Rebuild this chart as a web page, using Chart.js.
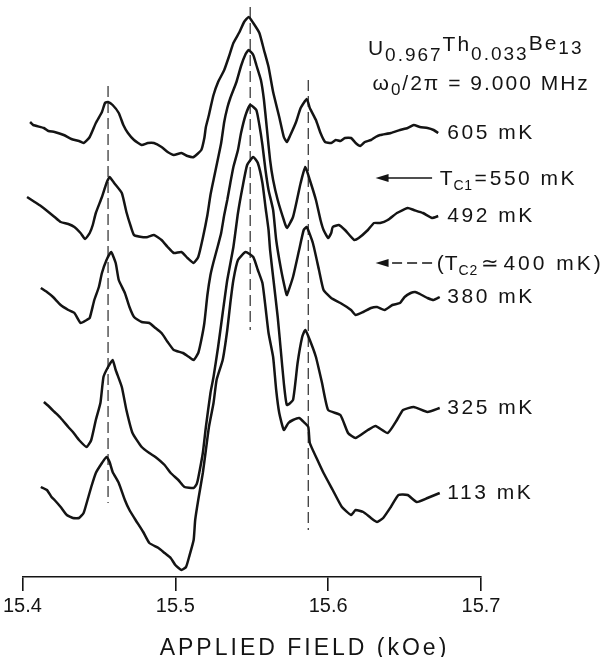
<!DOCTYPE html>
<html>
<head>
<meta charset="utf-8">
<script src="https://cdn.jsdelivr.net/npm/chart.js@4.4.1/dist/chart.umd.min.js"></script>
<style>
  html, body { margin: 0; padding: 0; background: #fff; }
  #wrap { width: 607px; height: 657px; }
</style>
</head>
<body>
<div id="wrap"><canvas id="nmr" width="607" height="657"></canvas></div>
<script>
// NMR absorption traces, x = applied field (kOe), y = trace height (arb. units, offset per trace)
const trace605 = [[15.405,455],[15.407,452],[15.414,449],[15.417,446],[15.421,445],[15.427,442],[15.432,438],[15.437,436],[15.440,434],[15.444,440],[15.448,454],[15.452,465],[15.454,474],[15.456,475],[15.459,472],[15.463,464],[15.466,452],[15.469,444],[15.473,437],[15.478,432],[15.482,434],[15.486,434],[15.491,430],[15.495,425],[15.499,422],[15.504,424],[15.508,421],[15.512,420],[15.517,427],[15.519,439],[15.520,450],[15.522,462],[15.523,469],[15.525,482],[15.528,495],[15.532,507],[15.535,520],[15.538,534],[15.542,545],[15.545,555],[15.548,560],[15.551,554],[15.555,544],[15.558,527],[15.561,510],[15.564,485],[15.568,460],[15.571,440],[15.573,435],[15.575,441],[15.579,455],[15.582,469],[15.586,478],[15.588,469],[15.592,457],[15.595,444],[15.598,435],[15.602,434],[15.605,437],[15.608,436],[15.611,439],[15.615,439],[15.618,434],[15.621,431],[15.624,435],[15.628,437],[15.631,440],[15.634,442],[15.641,444],[15.647,447],[15.652,449],[15.656,452],[15.660,450],[15.665,449],[15.669,447],[15.672,444]];
const trace492 = [[15.403,380],[15.408,375],[15.412,371],[15.417,365],[15.421,360],[15.425,355],[15.430,353],[15.434,350],[15.438,344],[15.441,338],[15.444,344],[15.446,352],[15.448,364],[15.452,380],[15.455,394],[15.457,400],[15.460,394],[15.465,384],[15.468,365],[15.471,350],[15.473,342],[15.478,340],[15.482,340],[15.486,342],[15.491,337],[15.495,330],[15.499,324],[15.504,325],[15.508,319],[15.512,314],[15.515,320],[15.518,339],[15.521,362],[15.523,382],[15.525,397],[15.528,419],[15.530,434],[15.532,455],[15.534,469],[15.536,479],[15.540,495],[15.543,511],[15.546,523],[15.548,527],[15.551,522],[15.553,512],[15.556,497],[15.558,477],[15.560,447],[15.562,417],[15.564,397],[15.567,377],[15.571,357],[15.573,349],[15.577,360],[15.580,380],[15.582,394],[15.585,410],[15.588,397],[15.592,377],[15.595,357],[15.597,347],[15.600,339],[15.602,344],[15.603,350],[15.607,352],[15.611,347],[15.617,337],[15.620,339],[15.626,347],[15.630,354],[15.634,354],[15.639,357],[15.645,364],[15.652,369],[15.656,367],[15.662,364],[15.668,359],[15.672,361]];
const trace380 = [[15.412,289],[15.416,285],[15.420,280],[15.425,272],[15.430,267],[15.434,264],[15.438,254],[15.442,257],[15.444,259],[15.447,277],[15.450,290],[15.452,304],[15.455,317],[15.458,325],[15.461,314],[15.463,297],[15.467,284],[15.470,270],[15.473,260],[15.478,255],[15.483,254],[15.487,249],[15.491,244],[15.495,235],[15.499,227],[15.505,224],[15.509,220],[15.512,217],[15.515,224],[15.517,237],[15.519,254],[15.521,282],[15.523,302],[15.525,315],[15.528,332],[15.530,344],[15.532,362],[15.534,377],[15.536,394],[15.538,410],[15.541,427],[15.543,444],[15.546,462],[15.549,472],[15.553,467],[15.555,452],[15.557,432],[15.559,407],[15.561,387],[15.564,367],[15.566,337],[15.569,309],[15.572,287],[15.573,282],[15.577,300],[15.581,327],[15.584,347],[15.586,350],[15.590,334],[15.594,307],[15.597,287],[15.602,279],[15.608,274],[15.615,267],[15.618,262],[15.623,265],[15.628,269],[15.632,270],[15.637,267],[15.642,272],[15.647,274],[15.650,280],[15.654,284],[15.657,285],[15.660,283],[15.665,279],[15.669,277],[15.673,280]];
const trace325 = [[15.414,175],[15.417,171],[15.421,165],[15.425,159],[15.430,150],[15.433,145],[15.437,137],[15.442,130],[15.445,137],[15.448,157],[15.451,174],[15.453,200],[15.456,210],[15.459,217],[15.461,207],[15.465,190],[15.468,167],[15.472,144],[15.478,130],[15.483,124],[15.487,120],[15.493,112],[15.497,104],[15.502,97],[15.506,90],[15.512,89],[15.514,93],[15.515,99],[15.518,124],[15.520,150],[15.523,184],[15.525,200],[15.528,230],[15.531,264],[15.534,297],[15.538,330],[15.541,364],[15.544,390],[15.547,412],[15.551,420],[15.554,414],[15.557,394],[15.559,370],[15.561,347],[15.562,327],[15.564,300],[15.567,260],[15.569,227],[15.571,194],[15.573,172],[15.577,177],[15.580,214],[15.583,240],[15.585,247],[15.588,237],[15.592,220],[15.596,194],[15.600,167],[15.608,162],[15.613,144],[15.618,139],[15.626,147],[15.631,151],[15.639,144],[15.645,157],[15.649,167],[15.656,170],[15.665,165],[15.673,169]];
const trace113 = [[15.412,90],[15.416,87],[15.419,80],[15.421,77],[15.425,70],[15.429,62],[15.433,59],[15.437,59],[15.440,64],[15.442,74],[15.445,90],[15.448,104],[15.452,114],[15.455,120],[15.457,115],[15.459,105],[15.463,94],[15.467,77],[15.470,67],[15.474,57],[15.479,45],[15.483,34],[15.489,29],[15.493,24],[15.497,19],[15.500,12],[15.504,7],[15.507,10],[15.509,20],[15.512,37],[15.513,57],[15.515,77],[15.518,104],[15.520,127],[15.522,150],[15.525,174],[15.527,197],[15.531,217],[15.534,247],[15.536,274],[15.538,297],[15.541,317],[15.546,325],[15.551,320],[15.554,307],[15.557,294],[15.559,270],[15.561,244],[15.564,220],[15.566,187],[15.568,164],[15.571,147],[15.574,154],[15.577,157],[15.581,159],[15.584,155],[15.587,150],[15.588,134],[15.593,117],[15.597,104],[15.603,87],[15.609,70],[15.615,62],[15.618,67],[15.623,65],[15.628,59],[15.632,55],[15.636,59],[15.641,70],[15.646,82],[15.652,82],[15.658,75],[15.665,79],[15.673,84]];

const traces = [trace605, trace492, trace380, trace325, trace113];
const tempLabels = ["605 mK", "492 mK", "380 mK", "325 mK", "113 mK"];

// dashed reference lines: field (kOe), top and bottom heights
const markerFields = [15.456, 15.549, 15.587];
const markerTops = [491, 570, 497];
const markerBottoms = [74, 247, 47];

const xTicks = [15.4, 15.5, 15.6, 15.7];

const FONT = '"Liberation Sans", Arial, sans-serif';
const INK = "#141414";

let datasets = traces.map(function (t) {
    return {
        data: t.map(p => ({ x: p[0], y: p[1] })),
        borderColor: INK,
        borderWidth: 2.5,
        pointRadius: 0,
        tension: 0.15,
        fill: false
    };
});
markerFields.forEach(function (f, i) {
    datasets.push({
        data: [{ x: f, y: markerTops[i] }, { x: f, y: markerBottoms[i] }],
        borderColor: "#3a3a3a",
        borderWidth: 1.3,
        borderDash: [11, 5],
        pointRadius: 0,
        fill: false
    });
});

// draw a run of text pieces (main letters and subscripts) left to right
function drawRuns(ctx, x, y, runs) {
    runs.forEach(function (r) {
        let sp = r.sp || 0;
        ctx.font = r.size + "px " + FONT;
        ctx.letterSpacing = "0px";
        let w = ctx.measureText(r.t).width + sp * r.t.length;
        ctx.letterSpacing = sp + "px";
        ctx.fillText(r.t, x, y + (r.dy || 0));
        x += w + (r.gap || 0);
    });
    ctx.letterSpacing = "0px";
}

function drawArrow(ctx, x0, x1, y, dashed) {
    ctx.save();
    ctx.strokeStyle = INK;
    ctx.fillStyle = INK;
    ctx.lineWidth = 1.6;
    if (dashed) ctx.setLineDash([10, 5]);
    ctx.beginPath();
    ctx.moveTo(x1, y);
    ctx.lineTo(x0 + 12, y);
    ctx.stroke();
    ctx.setLineDash([]);
    ctx.beginPath();
    ctx.moveTo(x0, y);
    ctx.lineTo(x0 + 13, y - 4);
    ctx.lineTo(x0 + 13, y + 4);
    ctx.closePath();
    ctx.fill();
    ctx.restore();
}

const annotations = {
    id: "annotations",
    afterDraw(chart) {
        const ctx = chart.ctx;
        const xs = chart.scales.x, ys = chart.scales.y;
        ctx.save();
        ctx.fillStyle = INK;
        ctx.textBaseline = "alphabetic";

        // sample and frequency
        drawRuns(ctx, xs.getPixelForValue(15.626), ys.getPixelForValue(522), [
            { t: "U", size: 21, sp: 2 },
            { t: "0.967", size: 19, sp: 2, dy: 6 },
            { t: "Th", size: 21, sp: 2, dy: -4 },
            { t: "0.033", size: 19, sp: 2, dy: 5 },
            { t: "Be", size: 21, sp: 2, dy: -5 },
            { t: "13", size: 19, sp: 2, dy: -1 }
        ]);
        drawRuns(ctx, xs.getPixelForValue(15.629), ys.getPixelForValue(487), [
            { t: "\u03c9", size: 21, sp: 2 },
            { t: "0", size: 17, sp: 2, dy: 5 },
            { t: "/2\u03c0 = 9.000 MHz", size: 21, sp: 2 }
        ]);

        // transition temperatures
        let ax0 = xs.getPixelForValue(15.631), ax1 = xs.getPixelForValue(15.668);
        let y1 = ys.getPixelForValue(399), y2 = ys.getPixelForValue(314);
        drawArrow(ctx, ax0, ax1, y1, false);
        drawArrow(ctx, ax0, ax1, y2, true);
        drawRuns(ctx, xs.getPixelForValue(15.673), y1 + 7, [
            { t: "T", size: 21, sp: 1 },
            { t: "C1", size: 14, sp: 0.5, dy: 5, gap: 2 },
            { t: "=", size: 21, gap: 3 },
            { t: "550 mK", size: 21, sp: 2.5 }
        ]);
        drawRuns(ctx, xs.getPixelForValue(15.671), y2 + 7, [
            { t: "(", size: 21, sp: 1 },
            { t: "T", size: 21, sp: 1 },
            { t: "C2", size: 14, sp: 1, dy: 5, gap: 3 },
            { t: "\u2243", size: 21, gap: 4 },
            { t: "400 mK)", size: 21, sp: 3 }
        ]);

        // temperature of each trace, at its right end
        ctx.textBaseline = "middle";
        traces.forEach(function (t, i) {
            let last = t[t.length - 1];
            drawRuns(ctx, xs.getPixelForValue(15.678), ys.getPixelForValue(last[1]), [
                { t: tempLabels[i], size: 21, sp: 2.5 }
            ]);
        });

        // axis title
        ctx.font = "23px " + FONT;
        ctx.letterSpacing = "3px";
        ctx.textAlign = "center";
        ctx.fillText("APPLIED FIELD (kOe)", chart.width / 2 + 1, xs.bottom + 28);
        ctx.restore();
    }
};

new Chart(document.getElementById("nmr").getContext("2d"), {
    type: "line",
    data: { datasets: datasets },
    options: {
        responsive: false,
        animation: false,
        devicePixelRatio: 1,
        layout: { padding: { left: 21, right: 126, top: 0, bottom: 36 } },
        plugins: { legend: { display: false }, tooltip: { enabled: false } },
        scales: {
            x: {
                type: "linear",
                min: 15.4,
                max: 15.7,
                afterBuildTicks: function (axis) {
                    axis.ticks = xTicks.map(v => ({ value: v }));
                },
                border: { display: true, color: INK, width: 1.6 },
                grid: { drawOnChartArea: false, drawTicks: true, tickLength: 14, color: INK, lineWidth: 1.6 },
                ticks: {
                    padding: 3,
                    color: INK,
                    font: { family: FONT, size: 20 },
                    callback: v => v.toFixed(1)
                }
            },
            y: { display: false, min: 0, max: 577 }
        }
    },
    plugins: [annotations]
});
</script>
</body>
</html>
